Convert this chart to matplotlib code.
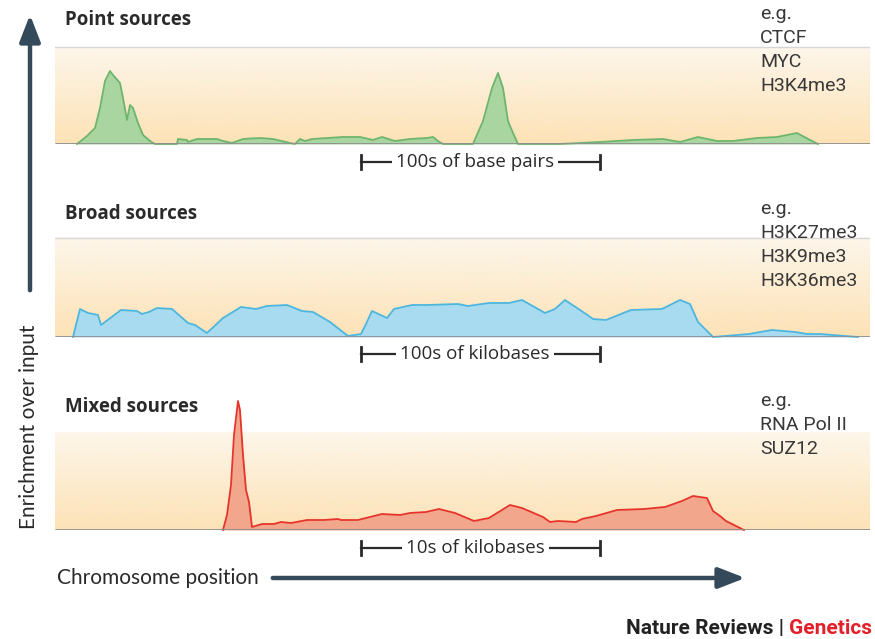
import matplotlib
matplotlib.use("Agg")
import matplotlib.pyplot as plt
import numpy as np
from matplotlib.colors import LinearSegmentedColormap

W, H = 875, 639

# signal profiles: chromosome position (x, arbitrary units) vs enrichment
point_pos = [77, 87, 95, 100, 105, 110, 113, 120, 123, 127, 128, 130, 133, 138, 143, 150, 155,
             177, 178, 187, 188, 197, 210, 217, 223, 232, 243, 260, 273, 290, 295,
             300, 305, 312, 343, 360, 373, 382, 395, 410, 427, 433, 438, 443,
             473, 483, 492, 498, 503, 508, 513, 518,
             560, 600, 633, 663, 680, 698, 717, 733, 757, 777, 797, 810, 818]
point_sig = [0, 8, 16, 36, 63, 73, 69, 61, 46, 24, 29, 39, 36, 21, 9, 3, 0,
             0, 5, 4, 2, 5, 5, 5, 3, 1, 5, 6, 5, 1, 0,
             5, 3, 5, 7, 7, 4, 7, 3, 5, 6, 7, 3, 0,
             0, 23, 56, 71, 56, 23, 11, 0,
             0, 2, 4, 5, 2, 7, 3, 3, 6, 7, 11, 4, 0]

broad_pos = [73, 80, 88, 98, 101, 121, 137, 142, 149, 157, 172, 188, 195, 207, 223, 241,
             256, 267, 287, 302, 313, 330, 348, 361, 366, 372, 387, 394, 412, 427, 458,
             468, 489, 509, 522, 545, 555, 565, 586, 593, 606, 621, 631, 662, 680, 690,
             698, 713, 749, 772, 795, 807, 820, 858]
broad_sig = [0, 28, 24, 22, 12, 27, 26, 23, 25, 29, 28, 14, 12, 4, 19, 30,
             28, 31, 32, 26, 25, 15, 1, 3, 13, 26, 19, 28, 32, 32, 33,
             31, 34, 34, 37, 24, 28, 37, 23, 18, 17, 23, 27, 28, 37, 33,
             15, 0, 3, 7, 5, 3, 3, 0]

mixed_pos = [223, 227, 231, 234, 238, 240, 243, 246, 249, 252, 262, 274, 281, 291, 307,
             324, 338, 341, 358, 382, 400, 410, 426, 439, 455, 474, 489, 510, 522, 543,
             550, 558, 576, 582, 596, 617, 644, 665, 682, 693, 707, 713, 720, 726, 734, 744]
mixed_sig = [0, 15, 45, 95, 129, 120, 75, 40, 28, 3, 6, 6, 8, 7, 10,
             10, 11, 10, 10, 16, 15, 17, 18, 21, 17, 9, 12, 25, 22, 13,
             8, 9, 8, 11, 14, 20, 21, 23, 29, 34, 32, 19, 14, 9, 5, 0]

titles = ["Point sources", "Broad sources", "Mixed sources"]
examples = [["e.g.", "CTCF", "MYC", "H3K4me3"],
            ["e.g.", "H3K27me3", "H3K9me3", "H3K36me3"],
            ["e.g.", "RNA Pol II", "SUZ12"]]
scales = ["100s of base pairs", "100s of kilobases", "10s of kilobases"]

fills = ["#a9d5a0", "#a8dbf0", "#f2a68c"]
edges = ["#6db56d", "#4cb6df", "#e6342c"]

# layout in pixels: baseline y, band height, title y, examples top y, scale bar y
baselines = [144, 337, 530]
band_hs = [97, 99, 98]
title_ys = [20, 214, 407]
ex_ys = [14, 209, 401]
scale_ys = [162, 354, 548]

x0, x1 = 55, 870
dark = "#34495a"
txt = "#2a2a2a"
cond = ["Roboto", "DejaVu Sans"]
sans = ["Lato", "DejaVu Sans"]
wide = ["Open Sans", "DejaVu Sans"]

fig = plt.figure(figsize=(W / 100, H / 100), dpi=100)
bg = LinearSegmentedColormap.from_list("bg", ["#fde2b6", "#fdf6ea"])

profiles = [(point_pos, point_sig), (broad_pos, broad_sig), (mixed_pos, mixed_sig)]
for i, (pos, sig) in enumerate(profiles):
    ax = fig.add_axes([x0 / W, 1 - baselines[i] / H, (x1 - x0) / W, 140 / H])
    ax.set_xlim(x0, x1)
    ax.set_ylim(0, 140)
    ax.axis("off")
    grad = np.linspace(0, 1, 200).reshape(-1, 1)
    ax.imshow(grad, cmap=bg, origin="lower", aspect="auto",
              extent=(x0, x1, 0, band_hs[i]), zorder=0)
    if i < 2:
        ax.plot([x0, x1], [band_hs[i], band_hs[i]], color="#d6d6d6", lw=1, zorder=1)
        ax.plot([x1, x1], [0, band_hs[i]], color="#dedede", lw=0.8, zorder=1)
    ax.fill_between(pos, sig, 0, color=fills[i], lw=0, zorder=2, clip_on=False)
    ax.plot(pos, sig, color=edges[i], lw=1.3, zorder=3, clip_on=False,
            solid_joinstyle="round")
    ax.plot([x0, x1], [0, 0], color="#8e8e8e", lw=2, zorder=4, solid_capstyle="butt")

# overlay in pixel coordinates for labels and arrows
ov = fig.add_axes([0, 0, 1, 1], zorder=10)
ov.set_xlim(0, W)
ov.set_ylim(H, 0)
ov.axis("off")
ov.patch.set_alpha(0)

for i in range(3):
    ov.text(65, title_ys[i], titles[i], fontsize=13.5, fontweight="bold",
            family=wide, color=txt, va="center", ha="left")
    for k, line in enumerate(examples[i]):
        ov.text(760, ex_ys[i] + k * 24, line, fontsize=14, family=cond,
                color="#383838", va="center", ha="left")
    y = scale_ys[i]
    ov.plot([361, 600], [y, y], color=txt, lw=1.6)
    ov.plot([361, 361], [y - 7, y + 7], color=txt, lw=2)
    ov.plot([600, 600], [y - 7, y + 7], color=txt, lw=2)
    ov.text(475, y, scales[i], fontsize=13.5, family=wide, color=txt,
            ha="center", va="center",
            bbox=dict(facecolor="white", edgecolor="none", pad=3))

# axis arrows
ov.annotate("", xy=(30, 12), xytext=(30, 293),
            arrowprops=dict(arrowstyle="-|>,head_length=0.9,head_width=0.35",
                            lw=3.2, color=dark, mutation_scale=18))
ov.annotate("", xy=(748, 578), xytext=(270, 578),
            arrowprops=dict(arrowstyle="-|>,head_length=0.9,head_width=0.35",
                            lw=3.2, color=dark, mutation_scale=18))
ov.text(29, 427, "Enrichment over input", rotation=90, fontsize=15,
        family=sans, color=txt, ha="center", va="center")
ov.text(57, 578, "Chromosome position", fontsize=15, family=sans,
        color=txt, ha="left", va="center")

gen = ov.text(872, 629, "Genetics", fontsize=15, fontweight="bold",
              family=cond, color="#e3202a", ha="right", va="center")
ov.annotate("Nature Reviews | ", xy=(0, 0.5), xycoords=gen, fontsize=15,
            fontweight="bold", family=cond, color="#222222",
            ha="right", va="center")

fig.savefig("out.png", dpi=100)
